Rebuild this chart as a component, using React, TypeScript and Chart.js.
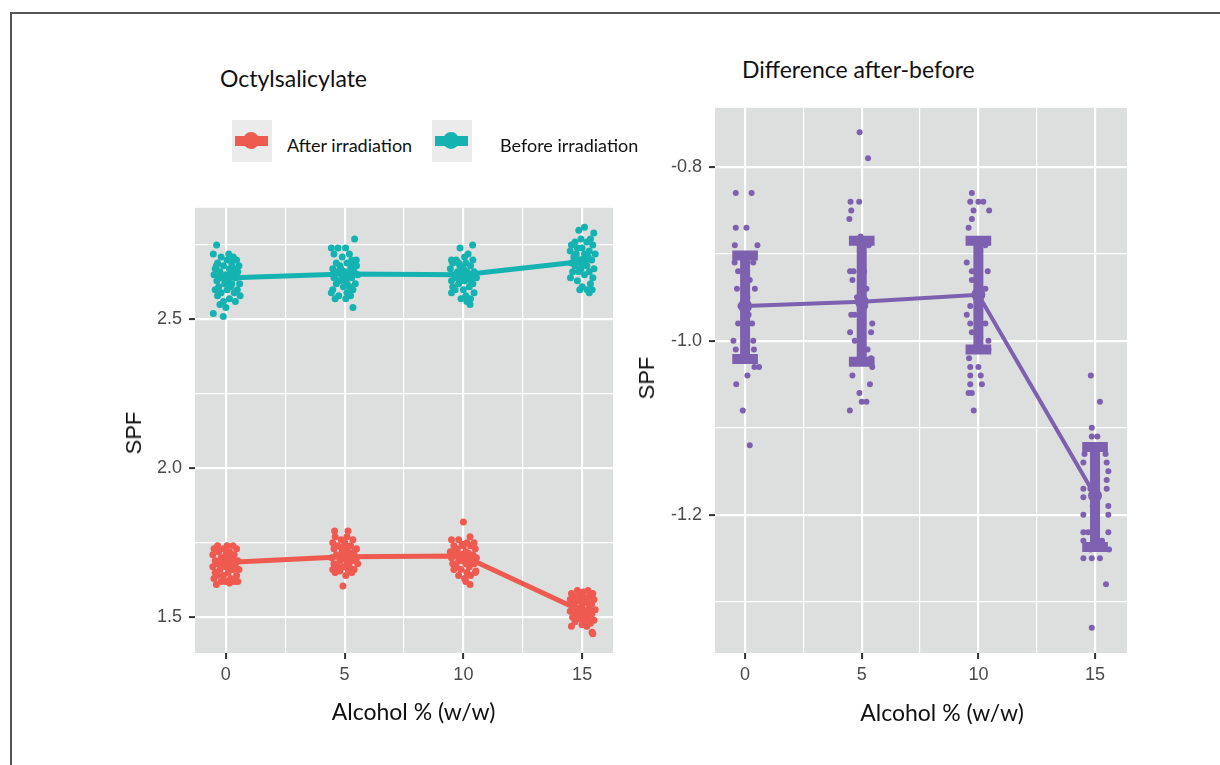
import React, { useEffect, useRef } from 'react';
import { Chart, registerables } from 'chart.js';

Chart.register(...registerables);

type Pt = [number, number];

// Alcohol levels (% w/w) on the x axis
const alcohol = [0, 5, 10, 15];

// Group means (SPF)
const beforeMean = [2.639, 2.653, 2.65, 2.695];
const afterMean = [1.684, 1.703, 1.706, 1.52];
const diffMean = [-0.96, -0.955, -0.947, -1.178];
const diffLower = [-1.021, -1.024, -1.01, -1.237];
const diffUpper = [-0.902, -0.885, -0.885, -1.122];

// Tick values
const xMajor = [0, 5, 10, 15];
const xMinor = [2.5, 7.5, 12.5];
const spfMajor = [1.5, 2.0, 2.5];
const spfMinor = [1.75, 2.25, 2.75];
const diffMajor = [-1.2, -1.0, -0.8];
const diffMinor = [-1.3, -1.1, -0.9];

// Individual jittered measurements: [horizontal jitter, SPF]
const before0: Pt[] = [[-0.39,2.75],[-0.53,2.72],[0.31,2.71],[0.12,2.72],[-0.2,2.71],[0.45,2.70],[0.05,2.70],[-0.35,2.69],[0.25,2.69],[0.55,2.68],[-0.1,2.68],[0.38,2.67],[-0.45,2.67],[0.15,2.67],[-0.25,2.66],[0.5,2.66],[0.0,2.65],[-0.5,2.65],[0.3,2.65],[-0.15,2.64],[0.42,2.64],[0.1,2.63],[-0.38,2.63],[0.58,2.62],[-0.05,2.62],[0.2,2.61],[-0.3,2.61],[0.48,2.60],[-0.45,2.60],[0.05,2.60],[0.35,2.59],[-0.2,2.59],[0.6,2.58],[-0.35,2.58],[0.15,2.57],[-0.1,2.56],[0.4,2.56],[-0.25,2.55],[0.0,2.54],[-0.53,2.52],[-0.11,2.51],[0.25,2.62],[-0.4,2.68],[0.2,2.66],[-0.3,2.64]];
const before5: Pt[] = [[-0.56,2.74],[-0.28,2.74],[0.04,2.74],[0.42,2.77],[0.49,2.70],[-0.45,2.72],[0.2,2.72],[-0.1,2.71],[0.3,2.70],[-0.35,2.69],[0.1,2.69],[0.5,2.68],[-0.2,2.68],[-0.5,2.67],[0.25,2.67],[0.0,2.66],[0.4,2.66],[-0.3,2.66],[-0.1,2.65],[0.55,2.65],[0.15,2.65],[-0.45,2.64],[0.3,2.64],[-0.2,2.63],[0.05,2.63],[0.45,2.62],[-0.35,2.62],[0.2,2.61],[-0.05,2.61],[-0.5,2.60],[0.35,2.60],[-0.56,2.59],[0.1,2.59],[-0.25,2.58],[0.25,2.58],[-0.4,2.57],[0.05,2.57],[0.35,2.54],[-0.15,2.67],[0.35,2.68],[-0.3,2.63],[0.1,2.62]];
const before10: Pt[] = [[-0.14,2.74],[0.39,2.75],[-0.5,2.70],[0.2,2.72],[0.05,2.71],[-0.3,2.70],[0.4,2.70],[-0.45,2.69],[0.1,2.69],[-0.15,2.68],[0.3,2.68],[-0.55,2.67],[0.0,2.67],[0.45,2.66],[-0.25,2.66],[0.15,2.66],[-0.4,2.65],[0.35,2.65],[-0.05,2.65],[0.55,2.64],[-0.3,2.64],[0.2,2.64],[-0.5,2.63],[0.05,2.63],[0.4,2.62],[-0.2,2.62],[-0.45,2.61],[0.25,2.61],[0.0,2.60],[-0.35,2.60],[0.45,2.59],[-0.5,2.59],[0.1,2.58],[0.3,2.57],[-0.1,2.57],[0.28,2.55],[0.15,2.56],[-0.2,2.69],[0.3,2.63],[-0.1,2.63]];
const before15: Pt[] = [[0.1,2.81],[-0.14,2.80],[0.49,2.79],[-0.05,2.77],[0.35,2.77],[-0.3,2.76],[0.2,2.76],[-0.45,2.75],[0.45,2.75],[0.0,2.74],[-0.2,2.74],[0.3,2.73],[-0.5,2.73],[0.1,2.72],[0.55,2.72],[-0.35,2.71],[0.25,2.71],[-0.1,2.70],[0.4,2.70],[-0.45,2.69],[0.05,2.69],[0.2,2.68],[-0.3,2.68],[0.5,2.67],[-0.05,2.67],[0.3,2.66],[-0.4,2.66],[0.1,2.65],[-0.49,2.64],[0.45,2.64],[-0.2,2.63],[0.35,2.62],[0.0,2.61],[0.21,2.60],[0.42,2.60],[-0.1,2.60],[0.3,2.59],[-0.25,2.72],[0.15,2.70],[-0.15,2.66]];

const after0: Pt[] = [[-0.35,1.74],[0.05,1.74],[0.3,1.74],[-0.5,1.73],[-0.1,1.73],[0.45,1.73],[0.15,1.72],[-0.3,1.72],[0.35,1.71],[-0.55,1.71],[0.0,1.71],[-0.2,1.70],[0.25,1.70],[0.5,1.69],[-0.45,1.69],[0.1,1.69],[-0.1,1.68],[0.4,1.68],[-0.35,1.68],[0.2,1.67],[-0.55,1.67],[0.0,1.67],[0.55,1.66],[-0.25,1.66],[0.3,1.66],[-0.45,1.65],[0.1,1.65],[-0.1,1.64],[0.45,1.64],[-0.35,1.64],[0.2,1.63],[-0.5,1.63],[0.35,1.62],[0.0,1.62],[-0.2,1.62],[0.5,1.62],[0.15,1.615],[-0.4,1.61],[0.35,1.675],[-0.15,1.695]];
const after5: Pt[] = [[-0.42,1.79],[0.14,1.79],[-0.4,1.77],[0.1,1.77],[-0.15,1.76],[0.35,1.76],[-0.5,1.75],[0.0,1.75],[0.25,1.74],[-0.3,1.74],[0.5,1.73],[-0.45,1.73],[0.1,1.73],[-0.1,1.72],[0.4,1.72],[-0.35,1.71],[0.2,1.71],[-0.55,1.70],[0.0,1.70],[0.5,1.70],[-0.2,1.69],[0.3,1.69],[-0.45,1.68],[0.1,1.68],[0.55,1.68],[-0.3,1.67],[0.2,1.67],[-0.05,1.67],[0.4,1.66],[-0.5,1.66],[0.15,1.66],[-0.2,1.655],[0.3,1.65],[-0.4,1.65],[0.05,1.64],[-0.07,1.605],[0.25,1.715],[-0.25,1.705],[0.45,1.695],[-0.15,1.735]];
const after10: Pt[] = [[0.0,1.82],[0.28,1.77],[-0.5,1.76],[-0.2,1.76],[0.15,1.75],[0.45,1.75],[-0.4,1.74],[0.0,1.74],[0.3,1.74],[-0.25,1.73],[0.5,1.73],[-0.55,1.72],[0.1,1.72],[-0.1,1.71],[0.4,1.71],[-0.35,1.71],[0.2,1.70],[-0.5,1.70],[0.55,1.70],[0.0,1.69],[-0.2,1.69],[0.35,1.69],[-0.45,1.68],[0.1,1.68],[0.45,1.68],[-0.3,1.67],[0.25,1.67],[-0.1,1.66],[0.5,1.65],[-0.4,1.66],[0.15,1.65],[-0.2,1.64],[0.3,1.64],[0.05,1.63],[0.28,1.61],[0.1,1.62],[0.53,1.655],[-0.3,1.725],[0.2,1.715],[-0.05,1.745]];
const after15: Pt[] = [[-0.2,1.59],[0.25,1.59],[0.05,1.585],[-0.45,1.58],[0.45,1.58],[-0.1,1.575],[0.3,1.57],[-0.35,1.57],[0.1,1.565],[-0.5,1.56],[0.5,1.56],[-0.2,1.555],[0.2,1.55],[-0.4,1.545],[0.4,1.545],[0.0,1.54],[-0.3,1.535],[0.3,1.53],[-0.1,1.53],[0.55,1.525],[-0.5,1.52],[0.15,1.52],[-0.25,1.515],[0.4,1.51],[0.0,1.505],[-0.4,1.50],[0.25,1.50],[-0.15,1.495],[0.5,1.49],[0.1,1.49],[-0.3,1.485],[0.35,1.48],[-0.45,1.47],[0.0,1.475],[0.2,1.47],[0.42,1.45],[0.45,1.445],[-0.2,1.525],[0.3,1.545],[-0.05,1.56]];

const diff0: Pt[] = [[-0.40,-0.83],[0.28,-0.83],[-0.40,-0.87],[0.06,-0.87],[-0.44,-0.89],[0.53,-0.89],[-0.45,-0.91],[0.1,-0.91],[0.35,-0.91],[-0.3,-0.92],[0.2,-0.93],[-0.35,-0.94],[0.42,-0.94],[0.1,-0.95],[-0.2,-0.96],[-0.1,-0.96],[0.15,-0.97],[-0.3,-0.98],[0.3,-0.98],[0.05,-0.99],[-0.5,-1.0],[0.35,-1.0],[-0.4,-1.01],[0.38,-1.01],[0.2,-1.02],[0.4,-1.03],[0.6,-1.03],[0.1,-1.04],[-0.38,-1.05],[-0.1,-1.08],[0.2,-1.12]];
const diff5: Pt[] = [[-0.09,-0.76],[0.27,-0.79],[-0.48,-0.84],[-0.11,-0.84],[-0.45,-0.85],[-0.53,-0.86],[-0.05,-0.88],[0.3,-0.89],[-0.5,-0.92],[-0.35,-0.92],[0.1,-0.92],[-0.4,-0.93],[0.2,-0.94],[-0.2,-0.95],[0.15,-0.96],[-0.45,-0.97],[-0.3,-0.97],[0.45,-0.98],[-0.5,-0.99],[0.4,-0.99],[-0.3,-1.0],[0.25,-1.01],[0.4,-1.02],[-0.1,-1.02],[0.45,-1.03],[-0.4,-1.04],[0.35,-1.05],[-0.1,-1.06],[0.0,-1.07],[0.2,-1.07],[-0.51,-1.08]];
const diff10: Pt[] = [[-0.28,-0.83],[-0.35,-0.84],[0.0,-0.84],[0.21,-0.84],[-0.21,-0.85],[0.46,-0.85],[-0.28,-0.86],[-0.42,-0.87],[0.3,-0.89],[-0.5,-0.91],[-0.28,-0.92],[0.4,-0.92],[-0.28,-0.93],[0.3,-0.94],[-0.35,-0.96],[-0.5,-0.97],[-0.35,-0.98],[0.3,-0.98],[-0.28,-0.99],[0.43,-1.0],[0.43,-1.01],[-0.4,-1.02],[-0.35,-1.03],[0.0,-1.03],[-0.35,-1.04],[0.1,-1.04],[-0.35,-1.05],[0.15,-1.05],[-0.42,-1.06],[-0.28,-1.06],[-0.2,-1.08]];
const diff15: Pt[] = [[-0.18,-1.04],[0.21,-1.07],[-0.14,-1.10],[-0.14,-1.11],[0.1,-1.11],[-0.3,-1.12],[0.3,-1.12],[-0.45,-1.13],[0.45,-1.13],[-0.5,-1.14],[0.5,-1.14],[0.57,-1.15],[0.5,-1.16],[-0.5,-1.17],[0.5,-1.17],[-0.2,-1.17],[-0.5,-1.18],[0.1,-1.18],[0.57,-1.19],[-0.1,-1.19],[-0.5,-1.2],[0.57,-1.2],[0.0,-1.21],[-0.5,-1.22],[0.57,-1.22],[-0.3,-1.22],[-0.5,-1.23],[0.3,-1.23],[0.6,-1.24],[-0.2,-1.24],[-0.5,-1.25],[-0.14,-1.25],[0.21,-1.25],[0.47,-1.28],[-0.14,-1.33]];

const TEAL = '#14b3b1';
const RED = '#ef5a50';
const PURPLE = '#7e60b0';
const PANEL = '#dddede';
const TICK_TEXT = '#4a4a4a';
const TEXT_FONT = 'Lato, "Open Sans", sans-serif';
const AXIS_FONT = '"Liberation Sans", Arial, sans-serif';

const spread = (level: number, pts: Pt[]) => pts.map(([dx, y]) => ({ x: level + dx, y }));

// Grey ggplot-style panel behind the plotting area
const panelBg = {
  id: 'panelBg',
  beforeDraw(chart: any) {
    const { ctx, chartArea: a } = chart;
    ctx.save();
    ctx.fillStyle = PANEL;
    ctx.fillRect(a.left, a.top, a.right - a.left, a.bottom - a.top);
    ctx.restore();
  },
};

function axis(
  min: number,
  max: number,
  major: number[],
  minor: number[],
  fmt: (v: number) => string,
  vertical: boolean,
  size: number,
) {
  const all = [...major, ...minor].sort((a, b) => a - b);
  const isMajor = (v: number) => major.some((m) => Math.abs(m - v) < 1e-9);
  return {
    type: 'linear',
    min,
    max,
    afterBuildTicks: (s: any) => {
      s.ticks = all.map((v) => ({ value: v }));
    },
    afterFit: (s: any) => {
      if (vertical) s.width = size;
      else s.height = size;
    },
    ticks: {
      autoSkip: false,
      maxRotation: 0,
      minRotation: 0,
      padding: vertical ? 7 : 5,
      color: TICK_TEXT,
      font: { family: AXIS_FONT, size: 18 },
      callback: (v: number) => (isMajor(v) ? fmt(v) : ''),
    },
    grid: {
      color: '#ffffff',
      lineWidth: (c: any) => (isMajor(c.tick.value) ? 2.2 : 1.2),
      drawTicks: true,
      tickLength: 6,
      tickWidth: 2,
      tickColor: (c: any) => (isMajor(c.tick.value) ? '#333333' : 'rgba(0,0,0,0)'),
    },
    border: { display: false },
  };
}

const fmtX = (v: number) => String(v);
const fmt1 = (v: number) => v.toFixed(1);

function SpfPanel() {
  const ref = useRef<HTMLCanvasElement>(null);
  useEffect(() => {
    if (!ref.current) return;
    const chart = new Chart(ref.current, {
      type: 'scatter',
      data: {
        datasets: [
          {
            label: 'Before irradiation (samples)',
            data: [...spread(0, before0), ...spread(5, before5), ...spread(10, before10), ...spread(15, before15)],
            backgroundColor: TEAL,
            pointRadius: 3.5,
            pointBorderWidth: 0,
            order: 4,
          },
          {
            label: 'After irradiation (samples)',
            data: [...spread(0, after0), ...spread(5, after5), ...spread(10, after10), ...spread(15, after15)],
            backgroundColor: RED,
            pointRadius: 3.5,
            pointBorderWidth: 0,
            order: 4,
          },
          {
            label: 'Before irradiation',
            data: alcohol.map((x, i) => ({ x, y: beforeMean[i] })),
            showLine: true,
            borderColor: TEAL,
            backgroundColor: TEAL,
            borderWidth: 5,
            pointRadius: 5.5,
            pointBorderWidth: 0,
            order: 1,
          },
          {
            label: 'After irradiation',
            data: alcohol.map((x, i) => ({ x, y: afterMean[i] })),
            showLine: true,
            borderColor: RED,
            backgroundColor: RED,
            borderWidth: 5,
            pointRadius: 5.5,
            pointBorderWidth: 0,
            order: 1,
          },
        ],
      },
      options: {
        responsive: false,
        animation: false,
        devicePixelRatio: 1,
        events: [],
        layout: { padding: { left: 0, top: 13, right: 17, bottom: 0 } },
        plugins: { legend: { display: false }, tooltip: { enabled: false } },
        scales: {
          x: axis(-1.3, 16.3, xMajor, xMinor, fmtX, false, 82),
          y: axis(1.38, 2.875, spfMajor, spfMinor, fmt1, true, 95),
        },
      } as any,
      plugins: [panelBg],
    });
    return () => chart.destroy();
  }, []);
  return (
    <canvas
      ref={ref}
      width={530}
      height={545}
      style={{ position: 'absolute', left: 100, top: 190, width: 530, height: 545 }}
    />
  );
}

function DiffPanel() {
  const ref = useRef<HTMLCanvasElement>(null);
  useEffect(() => {
    if (!ref.current) return;
    const capHalf = 0.55;
    const bars = alcohol.flatMap((x, i) => [
      { x, y: diffLower[i] },
      { x, y: diffUpper[i] },
      { x, y: null },
    ]);
    const caps = alcohol.flatMap((x, i) => [
      { x: x - capHalf, y: diffUpper[i] },
      { x: x + capHalf, y: diffUpper[i] },
      { x, y: null },
      { x: x - capHalf, y: diffLower[i] },
      { x: x + capHalf, y: diffLower[i] },
      { x, y: null },
    ]);
    const chart = new Chart(ref.current, {
      type: 'scatter',
      data: {
        datasets: [
          {
            label: 'Difference (samples)',
            data: [...spread(0, diff0), ...spread(5, diff5), ...spread(10, diff10), ...spread(15, diff15)],
            backgroundColor: PURPLE,
            pointRadius: 3,
            pointBorderWidth: 0,
            order: 4,
          },
          {
            label: 'Spread',
            data: bars as any,
            showLine: true,
            spanGaps: false,
            borderColor: PURPLE,
            borderWidth: 10,
            pointRadius: 0,
            order: 3,
          },
          {
            label: 'Spread caps',
            data: caps as any,
            showLine: true,
            spanGaps: false,
            borderColor: PURPLE,
            borderWidth: 10,
            pointRadius: 0,
            order: 3,
          },
          {
            label: 'Difference after-before',
            data: alcohol.map((x, i) => ({ x, y: diffMean[i] })),
            showLine: true,
            borderColor: PURPLE,
            backgroundColor: PURPLE,
            borderWidth: 4,
            pointRadius: 7,
            pointBorderWidth: 0,
            order: 1,
          },
        ],
      },
      options: {
        responsive: false,
        animation: false,
        devicePixelRatio: 1,
        events: [],
        layout: { padding: { left: 0, top: 17, right: 13, bottom: 0 } },
        plugins: { legend: { display: false }, tooltip: { enabled: false } },
        scales: {
          x: axis(-1.29, 16.37, xMajor, xMinor, fmtX, false, 82),
          y: axis(-1.359, -0.732, diffMajor, diffMinor, fmt1, true, 85),
        },
      } as any,
      plugins: [panelBg],
    });
    return () => chart.destroy();
  }, []);
  return (
    <canvas
      ref={ref}
      width={510}
      height={645}
      style={{ position: 'absolute', left: 630, top: 90, width: 510, height: 645 }}
    />
  );
}

const textBase: React.CSSProperties = {
  position: 'absolute',
  whiteSpace: 'nowrap',
  lineHeight: 1,
  color: '#111111',
  fontFamily: TEXT_FONT,
};

function LegendKey({ left, color }: { left: number; color: string }) {
  return (
    <div style={{ position: 'absolute', left, top: 120, width: 40, height: 42, background: '#ebebeb' }}>
      <div style={{ position: 'absolute', left: 3, top: 16, width: 33, height: 10, background: color }} />
      <div
        style={{ position: 'absolute', left: 11, top: 12, width: 16, height: 17, borderRadius: '50%', background: color }}
      />
    </div>
  );
}

export default function App() {
  return (
    <div
      style={{
        position: 'absolute',
        left: 0,
        top: 0,
        width: 1220,
        height: 765,
        background: '#ffffff',
        overflow: 'hidden',
      }}
    >
      <div
        style={{
          position: 'absolute',
          left: 10,
          top: 12,
          width: 1230,
          height: 780,
          borderTop: '2px solid #555555',
          borderLeft: '2px solid #555555',
        }}
      />
      <SpfPanel />
      <DiffPanel />

      <div style={{ ...textBase, left: 220, top: 66.6, fontSize: 23 }}>Octylsalicylate</div>
      <div style={{ ...textBase, left: 742, top: 57.9, fontSize: 23 }}>Difference after-before</div>

      <LegendKey left={232} color={RED} />
      <div style={{ ...textBase, left: 287, top: 135.7, fontSize: 18 }}>After irradiation</div>
      <LegendKey left={432} color={TEAL} />
      <div style={{ ...textBase, left: 500, top: 135.7, fontSize: 18 }}>Before irradiation</div>

      <div style={{ ...textBase, left: 413.5, top: 700.3, fontSize: 23, transform: 'translateX(-50%)' }}>
        Alcohol % (w/w)
      </div>
      <div style={{ ...textBase, left: 942, top: 701.3, fontSize: 23, transform: 'translateX(-50%)' }}>
        Alcohol % (w/w)
      </div>

      <div
        style={{
          ...textBase,
          left: 133.5,
          top: 432.5,
          fontSize: 22,
          fontFamily: AXIS_FONT,
          transform: 'translate(-50%, -50%) rotate(-90deg)',
        }}
      >
        SPF
      </div>
      <div
        style={{
          ...textBase,
          left: 646.5,
          top: 377.5,
          fontSize: 22,
          fontFamily: AXIS_FONT,
          transform: 'translate(-50%, -50%) rotate(-90deg)',
        }}
      >
        SPF
      </div>
    </div>
  );
}
